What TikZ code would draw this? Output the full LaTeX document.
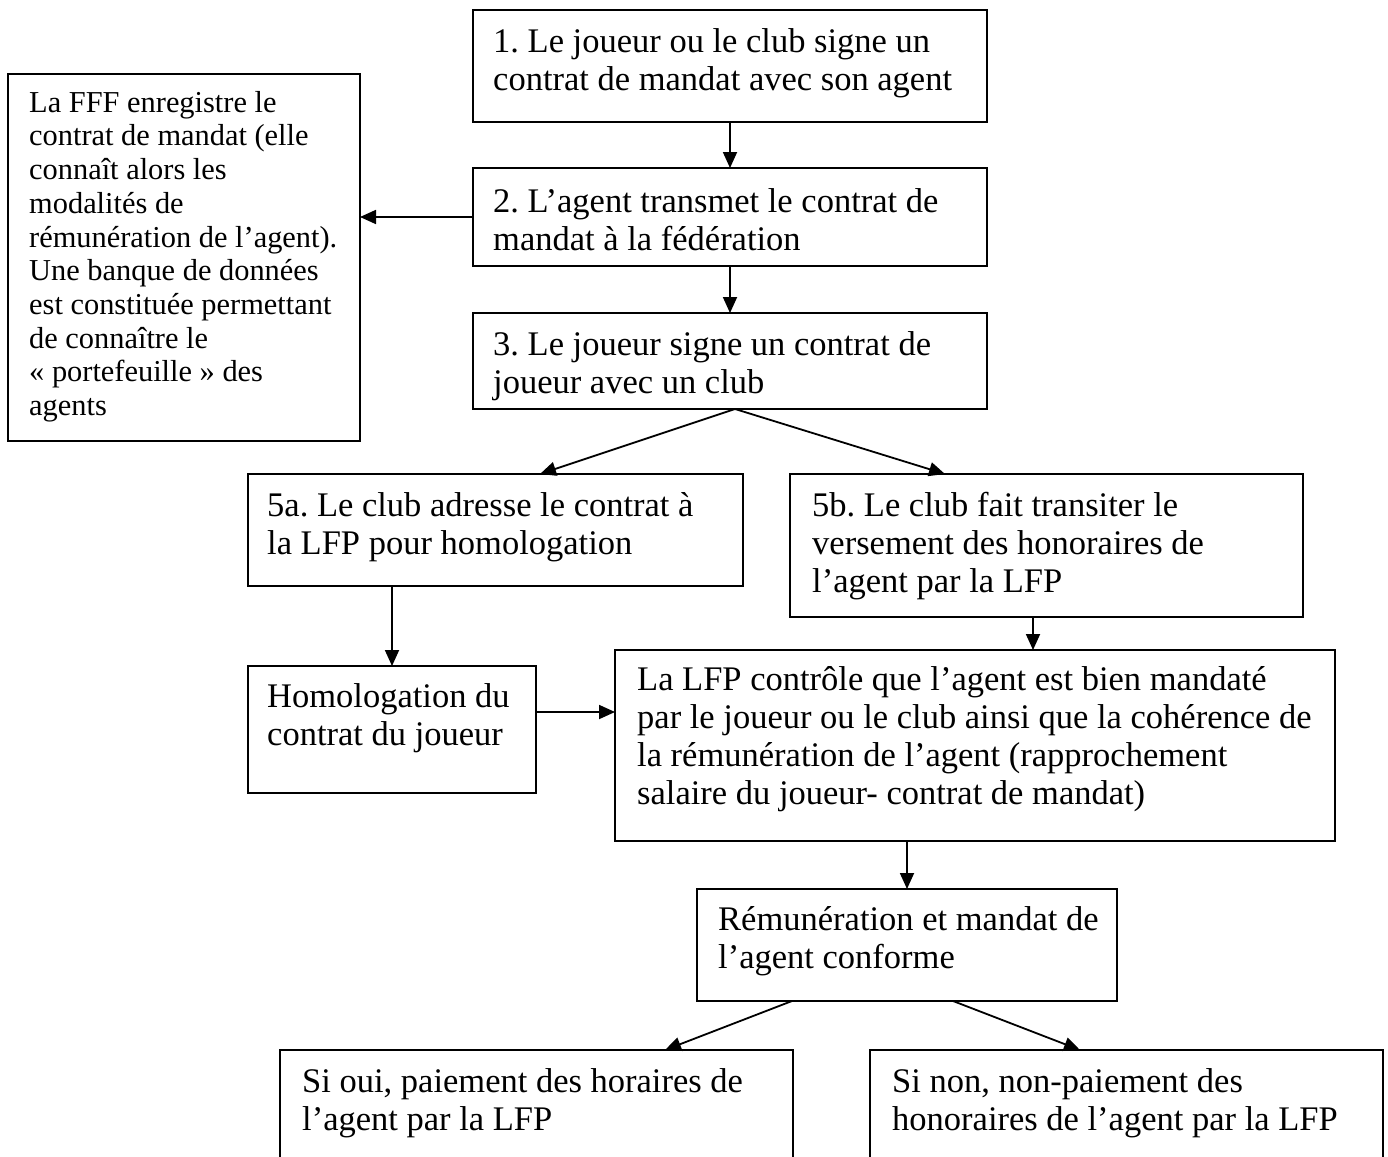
\documentclass[tikz,border=0pt]{standalone}
\usepackage{fontspec}
\setmainfont{Liberation Serif}
\usetikzlibrary{arrows.meta}
\frenchspacing
\newcommand\firstline{\rule{0pt}{27pt}}
\newcommand\firstsmall{\rule{0pt}{24pt}}
\newcommand\mybox[5]{\node[boxstyle, minimum width={#4-#2}, minimum height={#5-#3}] (#1) at (#2,#3) {};}
\begin{document}
\begin{tikzpicture}[x=1pt,y=-1pt,
  boxstyle/.style={draw,line width=1.8pt,inner sep=0pt,outer sep=0pt,anchor=north west},
  txt/.style={inner sep=0pt,anchor=north west,align=left,font=\fontsize{34.5}{38}\selectfont\frenchspacing},
  smalltxt/.style={inner sep=0pt,anchor=north west,align=left,font=\fontsize{30.4}{33.7}\selectfont\frenchspacing},
  arr/.style={line width=1.8pt,-{Triangle[length=16pt,width=14pt]}}]
\useasboundingbox (0,0) rectangle (1388,1156);
\clip (0,0) rectangle (1388,1156);
\fill[white] (0,0) rectangle (1388,1156);

% boxes
\mybox{b1}{473}{10}{987}{122}
\mybox{b2}{473}{168}{987}{266}
\mybox{b3}{473}{313}{987}{409}
\mybox{fff}{8}{74}{360}{441}
\mybox{a5}{248}{474}{743}{586}
\mybox{b5}{790}{474}{1303}{617}
\mybox{hom}{248}{666}{536}{793}
\mybox{lfp}{615}{650}{1335}{841}
\mybox{rem}{697}{889}{1117}{1001}
\mybox{oui}{280}{1050}{793}{1210}
\mybox{non}{870}{1050}{1383}{1210}

% texts (anchored at first baseline minus strut height)
\node[txt] (t1) at (493,{52-27}) {\firstline 1. Le joueur ou le club signe un\\contrat de mandat avec son agent};
\node[txt] (t2) at (493,{212-27}) {\firstline 2. L’agent transmet le contrat de\\mandat à la fédération};
\node[txt] (t3) at (493,{355-27}) {\firstline 3. Le joueur signe un contrat de\\joueur avec un club};
\node[smalltxt] (tfff) at (29,{112-24}) {\firstsmall La FFF enregistre le\\contrat de mandat (elle\\connaît alors les\\modalités de\\rémunération de l’agent).\\Une banque de données\\est constituée permettant\\de connaître le\\«~portefeuille~» des\\agents};
\node[txt] (ta5) at (267,{516-27}) {\firstline 5a. Le club adresse le contrat à\\la LFP pour homologation};
\node[txt] (tb5) at (812,{516-27}) {\firstline 5b. Le club fait transiter le\\versement des honoraires de\\l’agent par la LFP};
\node[txt] (thom) at (267,{707-27}) {\firstline Homologation du\\contrat du joueur};
\node[txt] (tlfp) at (637,{690-27}) {\firstline La LFP contrôle que l’agent est bien mandaté\\par le joueur ou le club ainsi que la cohérence de\\la rémunération de l’agent (rapprochement\\salaire du joueur- contrat de mandat)};
\node[txt] (trem) at (718,{930-27}) {\firstline Rémunération et mandat de\\l’agent conforme};
\node[txt] (toui) at (302,{1092-27}) {\firstline Si oui, paiement des horaires de\\l’agent par la LFP};
\node[txt] (tnon) at (892,{1092-27}) {\firstline Si non, non-paiement des\\honoraires de l’agent par la LFP};

% connectors
\draw[arr] (b1.south) -- (b2.north);
\draw[arr] (b2.south) -- (b3.north);
\draw[arr] (b2.west) -- (b2.west -| fff.east);
\draw[arr] ([xshift=5pt]b3.south) -- ([xshift=44.5pt]a5.north);
\draw[arr] ([xshift=5pt]b3.south) -- ([xshift=-101.5pt]b5.north);
\draw[arr] (hom.north |- a5.south) -- (hom.north);
\coordinate (h1) at ([yshift=17.5pt]hom.east);
\draw[arr] (h1) -- (h1 -| lfp.west);
\coordinate (c5) at ([xshift=-13.5pt]b5.south);
\draw[arr] (c5) -- (c5 |- lfp.north);
\draw[arr] (rem.north |- lfp.south) -- (rem.north);
\coordinate (r1) at ([xshift=-115pt]rem.south);
\coordinate (r2) at ([xshift=46pt]rem.south);
\draw[arr] (r1) -- ([xshift=128.5pt]oui.north);
\draw[arr] (r2) -- ([xshift=-46.5pt]non.north);
\end{tikzpicture}
\end{document}
